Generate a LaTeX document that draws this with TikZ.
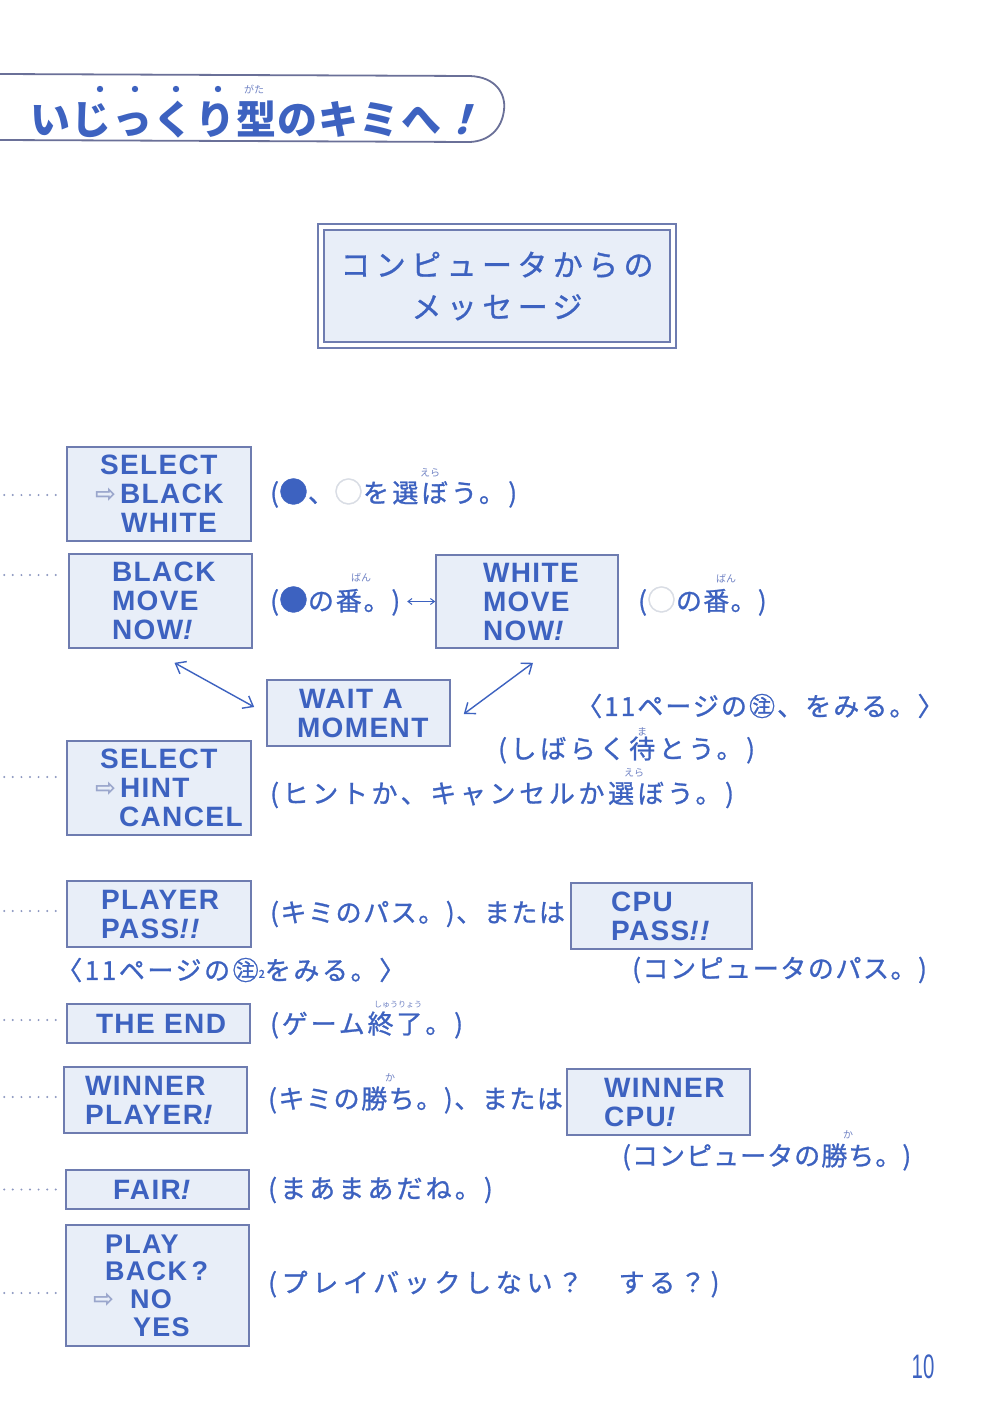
\documentclass[tikz,border=0pt]{standalone}
\usepackage{fontspec}
\setmainfont{Liberation Sans}
\newfontfamily\jpfont{Noto Sans CJK JP}
\newfontfamily\jpmed{Noto Sans CJK JP}[FakeBold=1]
\newfontfamily\dvfont{DejaVu Sans}
\newfontfamily\boxfont{Liberation Sans}[LetterSpace=5]
\usetikzlibrary{calc,arrows.meta}
\definecolor{inkblue}{HTML}{3D62C0}
\definecolor{boxline}{HTML}{6E7CB0}
\definecolor{boxfill}{HTML}{E8EEF8}
\definecolor{hintgray}{HTML}{9AA6CC}
\definecolor{rubyblue}{HTML}{6F82C4}
\definecolor{framegray}{HTML}{6A7098}
\definecolor{wcircle}{HTML}{D8DCE4}
\newcommand{\harr}{\makebox[25pt][l]{\dvfont\fontsize{25}{25}\selectfont\color{hintgray}\raisebox{1pt}{⇨}}}
\newcommand{\bang}{{\itshape !}}
\newcommand{\wcirc}{{\color{wcircle}\fontsize{29}{29}\selectfont ○}}
\newcommand{\bcirc}{{\fontsize{29}{29}\selectfont ●}}
\newcommand{\bxl}[1]{\mbox{#1}}
\begin{document}
\begin{tikzpicture}[x=1pt,y=-1pt,
  box/.style={draw=boxline, line width=1.6pt, fill=boxfill, inner ysep=0pt, align=left, text=inkblue,
    font=\boxfont\bfseries\fontsize{28}{29}\selectfont},
  msgbox/.style={draw=boxline, line width=1.2pt, double=white, double distance=4.8pt, fill=boxfill,
    minimum width=352pt, minimum height=118pt, align=center, text=inkblue,
    font=\jpmed\fontsize{30}{42}\selectfont\addfontfeatures{LetterSpace=18}},
  jt/.style={anchor=west, inner sep=0pt, text=inkblue, font=\jpmed\fontsize{26}{30}\selectfont},
  ruby/.style={inner sep=0pt, text=rubyblue, font=\jpfont\fontsize{10}{10}\selectfont},
  titlestyle/.style={anchor=west, inner sep=0pt, text=inkblue, font=\jpfont\bfseries\fontsize{40}{44}\selectfont\addfontfeatures{LetterSpace=3}},
  dbl/.style={inkblue, line width=1.4pt, {Straight Barb[length=9pt,width=14pt]}-{Straight Barb[length=9pt,width=14pt]}},
  smallarr/.style={inkblue, line width=1pt, {Straight Barb[length=4pt,width=6pt]}-{Straight Barb[length=4pt,width=6pt]}},
  leader/.style={boxline!80, line width=2.2pt, line cap=round, dash pattern=on 0pt off 8.6pt}
]
\useasboundingbox (0,0) rectangle (1000,1419);
\fill[white] (0,0) rectangle (1000,1419);

% title banner
\draw[framegray, line width=1.8pt] (0,74) -- (470,76) .. controls (496,77) and (506,94) .. (504,110)
  .. controls (502,128) and (490,141) .. (470,142) -- (0,140);
\node[titlestyle] (title) at (30,120) {いじっくり型のキミへ\addfontfeatures{FakeSlant=0.3}！};
\foreach \x in {100,135,176,218} \fill[inkblue] (\x,89) circle (3.2);
\node[ruby] (rgata) at (254,89) {がた};

% heading
\node[msgbox] (msg) at (497,286) {コンピュータからの\\メッセージ};

% message boxes
\node[box, minimum width=184pt, minimum height=94pt, inner xsep=28pt, text width=128pt] (sel1) at (159,494)
  {\bxl{\hspace*{5pt}SELECT}\\\bxl{\harr BLACK}\\\bxl{\hspace*{26pt}WHITE}};
\node[box, minimum width=183pt, minimum height=94pt, inner xsep=43pt, text width=97pt] (bmove) at (160.5,601)
  {\bxl{BLACK}\\\bxl{MOVE}\\\bxl{NOW\bang}};
\node[box, minimum width=182pt, minimum height=93pt, inner xsep=47pt, text width=88pt] (wmove) at (527,601.5)
  {\bxl{WHITE}\\\bxl{MOVE}\\\bxl{NOW\bang}};
\node[box, minimum width=183pt, minimum height=66pt, inner xsep=30pt, text width=123pt] (wait) at (358.5,713)
  {\bxl{\hspace*{2pt}WAIT A}\\\bxl{MOMENT}};
\node[box, minimum width=184pt, minimum height=94pt, inner xsep=28pt, text width=128pt] (sel2) at (159,788)
  {\bxl{\hspace*{5pt}SELECT}\\\bxl{\harr HINT}\\\bxl{\hspace*{24pt}CANCEL}};
\node[box, minimum width=184pt, minimum height=66pt, inner xsep=34pt, text width=116pt] (ppass) at (159,914)
  {\bxl{PLAYER}\\\bxl{PASS\bang\bang}};
\node[box, minimum width=181pt, minimum height=66pt, inner xsep=40pt, text width=101pt] (cpass) at (661.5,916)
  {\bxl{CPU}\\\bxl{PASS\bang\bang}};
\node[box, minimum width=183pt, minimum height=39pt, inner xsep=29pt, text width=125pt] (theend) at (158.5,1023.5)
  {\bxl{THE END}};
\node[box, minimum width=183pt, minimum height=66pt, inner xsep=21pt, text width=141pt] (wplayer) at (155.5,1100)
  {\bxl{WINNER}\\\bxl{PLAYER\bang}};
\node[box, minimum width=183pt, minimum height=66pt, inner xsep=37pt, text width=109pt] (wcpu) at (658.5,1102)
  {\bxl{WINNER}\\\bxl{CPU\bang}};
\node[box, minimum width=183pt, minimum height=39pt, inner xsep=47pt, text width=89pt] (fair) at (157.5,1189.5)
  {\bxl{FAIR\bang}};
\node[box, minimum width=183pt, minimum height=121pt, inner xsep=27pt, text width=129pt,
  font=\boxfont\bfseries\fontsize{27}{27.7}\selectfont] (playback) at (157.5,1285.5)
  {\bxl{\hspace*{12pt}PLAY}\\\bxl{\hspace*{12pt}BACK\,?}\\\bxl{\harr\hspace*{12pt}NO}\\\bxl{\hspace*{40pt}YES}};

% dotted leaders
\draw[leader] ($(sel1.west)+(-62,1)$) -- ($(sel1.west)+(-10,1)$);
\draw[leader] ($(bmove.west)+(-64,-26)$) -- ($(bmove.west)+(-12,-26)$);
\draw[leader] ($(sel2.west)+(-62,-11)$) -- ($(sel2.west)+(-10,-11)$);
\draw[leader] ($(ppass.west)+(-62,-3)$) -- ($(ppass.west)+(-10,-3)$);
\draw[leader] ($(theend.west)+(-62,-3.5)$) -- ($(theend.west)+(-10,-3.5)$);
\draw[leader] ($(wplayer.west)+(-59,-3)$) -- ($(wplayer.west)+(-7,-3)$);
\draw[leader] ($(fair.west)+(-61,0)$) -- ($(fair.west)+(-9,0)$);
\draw[leader] ($(playback.west)+(-61,7.5)$) -- ($(playback.west)+(-9,7.5)$);

% explanations
\node[jt] (t1) at (270,493) {\addfontfeatures{LetterSpace=13}(\bcirc、\wcirc を選ぼう。)};
\node[ruby] at (430,473) {えら};
\node[jt] (t2) at (270,601) {\addfontfeatures{LetterSpace=7}(\bcirc の番。)};
\node[ruby] at (361,578) {ばん};
\node[jt] (t3) at (638,601) {\addfontfeatures{LetterSpace=5}(\wcirc の番。)};
\node[ruby] at (726,579) {ばん};
\node[jt] (t4) at (576,706) {\addfontfeatures{LetterSpace=8}〈11ページの㊟、をみる。〉};
\node[jt] (t5) at (498,750) {\addfontfeatures{LetterSpace=14}(しばらく待とう。)};
\node[ruby] at (642,732) {ま};
\node[jt] (t6) at (270,795) {\addfontfeatures{LetterSpace=14}(ヒントか、キャンセルか選ぼう。)};
\node[ruby] at (634,773) {えら};
\node[jt] (t7) at (270,914) {\addfontfeatures{LetterSpace=6}(キミのパス。)、または};
\node[jt] (t8) at (56,970) {\addfontfeatures{LetterSpace=10}〈11ページの㊟\raisebox{2pt}{\fontsize{11}{11}\selectfont 2}をみる。〉};
\node[jt] (t9) at (632,970) {\addfontfeatures{LetterSpace=6}(コンピュータのパス。)};
\node[jt] (t10) at (270,1025) {\addfontfeatures{LetterSpace=11}(ゲーム終了。)};
\node[ruby, font=\jpfont\fontsize{8}{8}\selectfont] at (398,1005) {しゅうりょう};
\node[jt] (t11) at (268,1100) {\addfontfeatures{LetterSpace=6}(キミの勝ち。)、または};
\node[ruby] at (390,1078) {か};
\node[jt] (t12) at (622,1157) {\addfontfeatures{LetterSpace=4}(コンピュータの勝ち。)};
\node[ruby] at (848,1135) {か};
\node[jt] (t13) at (268,1190) {\addfontfeatures{LetterSpace=12}(まあまあだね。)};
\node[jt] (t14) at (268,1284) {\addfontfeatures{LetterSpace=18}(プレイバックしない？　する？)};

% arrows
\draw[smallarr] ([xshift=-28pt]wmove.west) -- (wmove.west);
\draw[dbl] ($(bmove.south)+(14,14)$) -- ($(wait.west)+(-12,-6)$);
\draw[dbl] ($(wmove.south)+(6,14)$) -- ($(wait.east)+(13,1)$);

% page number
\node[inner sep=0pt, text=inkblue, font=\fontsize{34}{34}\selectfont] (pnum) at (923,1367) {\scalebox{0.6}[1]{10}};
\end{tikzpicture}
\end{document}
